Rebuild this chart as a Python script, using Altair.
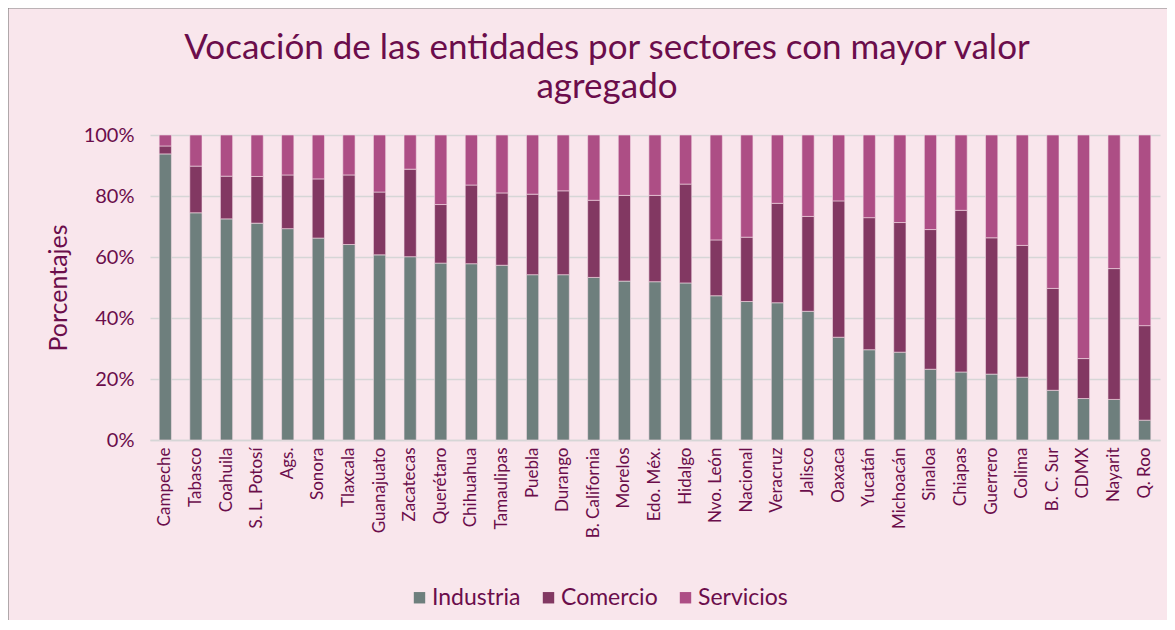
import altair as alt
import pandas as pd

states = ["Campeche", "Tabasco", "Coahuila", "S. L. Potosí", "Ags.", "Sonora", "Tlaxcala",
          "Guanajuato", "Zacatecas", "Querétaro", "Chihuahua", "Tamaulipas", "Puebla",
          "Durango", "B. California", "Morelos", "Edo. Méx.", "Hidalgo", "Nvo. León",
          "Nacional", "Veracruz", "Jalisco", "Oaxaca", "Yucatán", "Michoacán", "Sinaloa",
          "Chiapas", "Guerrero", "Colima", "B. C. Sur", "CDMX", "Nayarit", "Q. Roo"]
industria = [93.8, 74.5, 72.5, 71.1, 69.3, 66.2, 64.1, 60.7, 60.1, 58.0, 57.8, 57.3, 54.2,
             54.2, 53.3, 52.1, 51.9, 51.5, 47.3, 45.4, 45.0, 42.2, 33.7, 29.6, 28.8, 23.2,
             22.3, 21.6, 20.6, 16.3, 13.6, 13.3, 6.5]
comercio = [2.6, 15.3, 14.0, 15.3, 17.6, 19.4, 22.8, 20.6, 28.7, 19.2, 25.8, 23.7, 26.4,
            27.5, 25.3, 28.1, 28.3, 32.4, 18.3, 21.1, 32.6, 31.1, 44.7, 43.3, 42.5, 45.8,
            53.0, 44.7, 43.2, 33.4, 13.1, 42.9, 31.0]
servicios = [3.6, 10.2, 13.5, 13.6, 13.1, 14.4, 13.1, 18.7, 11.2, 22.8, 16.4, 19.0, 19.4,
             18.3, 21.4, 19.8, 19.8, 16.1, 34.4, 33.5, 22.4, 26.7, 21.6, 27.1, 28.7, 31.0,
             24.7, 33.7, 36.2, 50.3, 73.3, 43.8, 62.5]
sectors = ["Industria", "Comercio", "Servicios"]
colors = ["#6e7f7d", "#823862", "#ad4e85"]
y_ticks = [0, 20, 40, 60, 80, 100]

rows = []
for i, s in enumerate(states):
    for k, (name, vals) in enumerate(zip(sectors, [industria, comercio, servicios])):
        rows.append({"Entidad": s, "Sector": name, "Valor": vals[i], "orden": k})
df = pd.DataFrame(rows)

TXT = "#6b0d4b"
FONT = "Lato"

bars = alt.Chart(df).mark_bar(stroke="#f3dbe6", strokeWidth=0.6).encode(
    x=alt.X("Entidad:N", sort=states,
            scale=alt.Scale(paddingInner=0.6, paddingOuter=0.3),
            axis=alt.Axis(title=None, labelAngle=270, labelAlign="right", labelBaseline="middle",
                          labelFontSize=17, labelColor=TXT, labelFont=FONT, labelPadding=7,
                          ticks=False, domainColor="#d6d6d6", domainWidth=1.5,
                          labelOverlap=False)),
    y=alt.Y("Valor:Q", stack="zero", scale=alt.Scale(domain=[0, 100], nice=False),
            axis=alt.Axis(title="Porcentajes", values=y_ticks, labelExpr="datum.value + '%'",
                          labelFontSize=20, labelColor=TXT, labelFont=FONT, labelPadding=16,
                          titleFontSize=25, titleColor=TXT, titleFont=FONT, titleFontWeight="normal",
                          titlePadding=12, ticks=False, domain=False,
                          gridColor="#d6d6d6", gridWidth=1.5)),
    color=alt.Color("Sector:N", sort=sectors, scale=alt.Scale(domain=sectors, range=colors),
                    legend=alt.Legend(title=None, orient="none", direction="horizontal",
                                      legendX=258, legendY=451, symbolType="square",
                                      symbolSize=130, symbolStrokeWidth=0,
                                      labelFontSize=23, labelColor=TXT, labelFont=FONT,
                                      columnPadding=16, labelOffset=1)),
    order=alt.Order("orden:Q"),
)

frame = alt.Chart(pd.DataFrame({"a": [0]})).mark_rect(
    fill=None, stroke="#7f7f7f", strokeWidth=1.2).encode(
    x=alt.value(-142), x2=alt.value(1030), y=alt.value(-127), y2=alt.value(500))

chart = alt.layer(bars, frame).properties(
    width=1010, height=305,
    title=alt.TitleParams(["Vocación de las entidades por sectores con mayor valor", "agregado"],
                          fontSize=35, color=TXT, font=FONT, fontWeight="normal",
                          anchor="middle", frame="group", offset=-98, lineHeight=39, dx=-48),
    autosize=alt.AutoSizeParams(type="none"),
    padding={"left": 142, "top": 127, "right": 7, "bottom": 180},
    background="#f9e6ec",
).configure_view(stroke=None)

chart.save("out.html", embed_options={"renderer": "svg", "actions": False})
